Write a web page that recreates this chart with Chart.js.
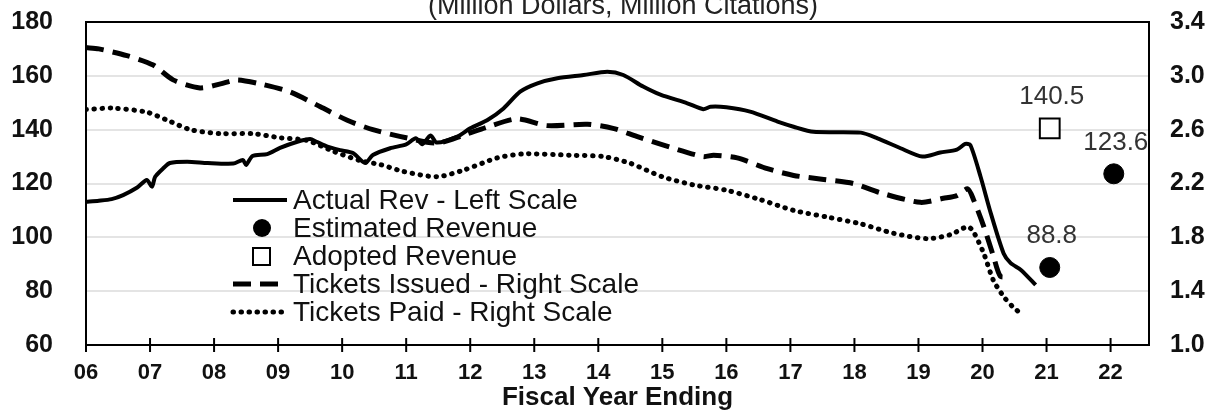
<!DOCTYPE html>
<html>
<head>
<meta charset="utf-8">
<script src="https://cdn.jsdelivr.net/npm/chart.js@4/dist/chart.umd.min.js"></script>
<style>
  html, body { margin: 0; padding: 0; background: #fff; }
  canvas { display: block; }
</style>
</head>
<body>
<canvas id="myChart" width="1220" height="418"></canvas>
<script>
// DATA //

var titleText = '(Million Dollars, Million Citations)';
var xTitle = 'Fiscal Year Ending';
var xTicks = [6, 7, 8, 9, 10, 11, 12, 13, 14, 15, 16, 17, 18, 19, 20, 21, 22];
var xTickLabels = ['06', '07', '08', '09', '10', '11', '12', '13', '14', '15', '16', '17', '18', '19', '20', '21', '22'];
var leftTicks = [60, 80, 100, 120, 140, 160, 180];
var rightTicks = [1.0, 1.4, 1.8, 2.2, 2.6, 3.0, 3.4];

// actual revenue, million dollars (left scale)
var revYears = [6.0, 6.2, 6.4, 6.58, 6.8, 6.95, 7.03, 7.08, 7.2, 7.31, 7.58, 7.9, 8.3, 8.45, 8.5, 8.6, 8.83,
  9.03, 9.3, 9.5, 9.6, 9.77, 9.97, 10.17, 10.36, 10.48, 10.75, 11.0, 11.15, 11.25, 11.38, 11.48, 11.8,
  12.0, 12.27, 12.52, 12.78, 13.05, 13.36, 13.77, 14.14, 14.39, 14.7, 14.97, 15.39, 15.64, 15.75, 16.0,
  16.37, 16.8, 17.05, 17.36, 18.1, 18.36, 18.72, 19.06, 19.34, 19.6, 19.73, 19.81, 19.97, 20.13, 20.33,
  20.44, 20.6, 20.83];
var revValues = [113.2, 113.6, 114.2, 115.7, 118.5, 121.3, 118.8, 122.5, 125.5, 127.6, 128.1, 127.6, 127.4, 128.7, 126.9, 130.2, 130.9,
  133.2, 135.5, 136.5, 135.5, 133.7, 132.4, 131.3, 127.6, 130.6, 133.1, 134.5, 136.8, 134.6, 137.8, 135.2, 137.4,
  140.5, 143.6, 147.9, 154.1, 157.2, 159.1, 160.3, 161.5, 160.3, 156.0, 153.0, 149.8, 147.6, 148.5, 148.3,
  146.7, 143.0, 141.1, 139.2, 138.9, 136.8, 133.1, 130.0, 131.5, 132.6, 134.7, 134.3, 122.5, 108.9, 94.0,
  90.4, 87.9, 82.3];

// tickets issued, million citations (right scale)
var issuedYears = [6.0, 6.2, 6.64, 7.05, 7.36, 7.78, 8.1, 8.36, 8.72, 9.19, 9.66, 10.08, 10.48, 11.0, 11.48,
  11.9, 12.27, 12.73, 13.2, 13.83, 14.23, 14.6, 15.12, 15.64, 15.8, 16.17, 16.64, 17.05, 17.52, 17.98,
  18.41, 19.03, 19.39, 19.6, 19.77, 19.86, 20.02, 20.17, 20.28, 20.44];
var issuedValues = [3.21, 3.20, 3.15, 3.08, 2.97, 2.91, 2.94, 2.97, 2.94, 2.88, 2.77, 2.67, 2.60, 2.54, 2.50,
  2.56, 2.62, 2.68, 2.63, 2.64, 2.61, 2.55, 2.47, 2.40, 2.41, 2.39, 2.31, 2.26, 2.23, 2.20,
  2.13, 2.06, 2.09, 2.11, 2.16, 2.08, 1.88, 1.66, 1.51, 1.51];

// tickets paid, million citations (right scale)
var paidYears = [6.0, 6.42, 6.95, 7.27, 7.63, 8.1, 8.61, 9.03, 9.45, 9.86, 10.28, 10.6, 10.95, 11.48, 11.9,
  12.42, 12.83, 13.56, 14.08, 14.5, 15.0, 15.48, 16.0, 16.53, 17.05, 17.58, 18.1, 18.61, 19.14, 19.5,
  19.77, 19.86, 20.02, 20.17, 20.33, 20.48, 20.64];
var paidValues = [2.75, 2.76, 2.73, 2.67, 2.60, 2.57, 2.57, 2.54, 2.52, 2.44, 2.37, 2.34, 2.29, 2.25, 2.30,
  2.39, 2.42, 2.41, 2.40, 2.35, 2.25, 2.19, 2.15, 2.08, 2.00, 1.95, 1.90, 1.83, 1.79, 1.82,
  1.88, 1.84, 1.68, 1.48, 1.36, 1.28, 1.22];

// estimated / adopted revenue points
var estYears = [21.05, 22.05];
var estValues = [88.8, 123.6];
var adoptedYears = [21.05];
var adoptedValues = [140.5];

function pairs(xs, ys) {
  return xs.map(function (x, i) { return { x: x, y: ys[i] }; });
}

var FONT = '"Liberation Sans", Arial, sans-serif';

// no label overhang, the plot box is placed by hand
function noPad(s) {
  s.paddingTop = 0; s.paddingBottom = 0; s.paddingLeft = 0; s.paddingRight = 0;
}

// EXTRAS: frame, crossing x ticks, cut-off title, legend in plot, value labels //

var extras = {
  id: 'extras',
  afterDatasetsDraw: function (chart) {
    var ctx = chart.ctx;
    var a = chart.chartArea;
    var x = chart.scales.x;
    ctx.save();

    ctx.strokeStyle = '#000';
    ctx.lineWidth = 2;
    ctx.setLineDash([]);
    ctx.strokeRect(a.left, a.top, a.right - a.left, a.bottom - a.top);
    x.ticks.forEach(function (t) {
      var px = x.getPixelForValue(t.value);
      ctx.beginPath();
      ctx.moveTo(px, a.bottom - 7);
      ctx.lineTo(px, a.bottom + 7);
      ctx.stroke();
    });

    ctx.fillStyle = '#222';
    ctx.font = '27px ' + FONT;
    ctx.textAlign = 'center';
    ctx.textBaseline = 'alphabetic';
    ctx.fillText(titleText, 623, 14);

    // value labels
    ctx.font = '26px ' + FONT;
    ctx.fillStyle = '#333';
    chart.data.datasets.forEach(function (ds, i) {
      if (!ds.showValue) return;
      chart.getDatasetMeta(i).data.forEach(function (el, j) {
        ctx.fillText(String(ds.data[j].y), el.x + 2, el.y - 24);
      });
    });

    // legend
    ctx.font = '28px ' + FONT;
    ctx.textAlign = 'left';
    ctx.textBaseline = 'middle';
    var lx = a.left + 147;
    chart.data.datasets.forEach(function (ds, i) {
      var y = a.top + 178 + i * 28;
      ctx.strokeStyle = '#000';
      if (ds.showLine === false) {
        ctx.setLineDash([]);
        ctx.lineWidth = 2;
        ctx.beginPath();
        if (ds.pointStyle === 'rect') {
          ctx.fillStyle = '#fff';
          ctx.rect(lx + 20, y - 8, 17, 17);
          ctx.fill();
          ctx.stroke();
        } else {
          ctx.fillStyle = '#000';
          ctx.arc(lx + 29, y, 9, 0, Math.PI * 2);
          ctx.fill();
        }
      } else {
        ctx.setLineDash(ds.borderDash || []);
        ctx.lineCap = ds.borderCapStyle || 'butt';
        ctx.lineWidth = ds.borderWidth;
        ctx.beginPath();
        ctx.moveTo(lx, y);
        ctx.lineTo(lx + 54, y);
        ctx.stroke();
      }
      ctx.fillStyle = '#111';
      ctx.fillText(ds.label, lx + 60, y + 1);
    });
    ctx.restore();
  }
};

// GRAFICO //

var ctx = document.getElementById('myChart').getContext('2d');
var chart = new Chart(ctx, {
  type: 'line',
  data: {
    datasets: [{
      label: 'Actual Rev - Left Scale',
      data: pairs(revYears, revValues),
      yAxisID: 'y',
      borderColor: '#000',
      borderWidth: 4,
      pointRadius: 0,
      tension: 0.25,
      order: 3
    }, {
      label: 'Estimated Revenue',
      data: pairs(estYears, estValues),
      yAxisID: 'y',
      showLine: false,
      showValue: true,
      pointStyle: 'circle',
      pointRadius: 10,
      backgroundColor: '#000',
      borderColor: '#000',
      order: 1
    }, {
      label: 'Adopted Revenue',
      data: pairs(adoptedYears, adoptedValues),
      yAxisID: 'y',
      showLine: false,
      showValue: true,
      pointStyle: 'rect',
      pointRadius: 14,
      pointBorderWidth: 2,
      backgroundColor: '#fff',
      borderColor: '#000',
      order: 1
    }, {
      label: 'Tickets Issued - Right Scale',
      data: pairs(issuedYears, issuedValues),
      yAxisID: 'y1',
      borderColor: '#000',
      borderWidth: 5,
      borderDash: [18, 9],
      pointRadius: 0,
      tension: 0.25,
      order: 2
    }, {
      label: 'Tickets Paid - Right Scale',
      data: pairs(paidYears, paidValues),
      yAxisID: 'y1',
      borderColor: '#000',
      borderWidth: 5,
      borderDash: [0.5, 7.5],
      borderCapStyle: 'round',
      pointRadius: 0,
      tension: 0.25,
      order: 2
    }]
  },
  options: {
    responsive: false,
    animation: false,
    devicePixelRatio: 1,
    layout: { padding: { top: 22, left: 0, right: 0, bottom: 0 } },
    plugins: {
      legend: { display: false },
      tooltip: { enabled: false }
    },
    scales: {
      x: {
        type: 'linear',
        min: 6,
        max: 22.6,
        afterBuildTicks: function (s) { s.ticks = xTicks.map(function (v) { return { value: v }; }); },
        afterFit: function (s) { s.height = 73; noPad(s); },
        grid: { display: false, drawTicks: false },
        border: { color: '#000', width: 2 },
        ticks: {
          padding: 15,
          color: '#111',
          font: { family: FONT, size: 22, weight: 'bold' },
          maxRotation: 0,
          callback: function (v) { return xTickLabels[xTicks.indexOf(v)]; }
        },
        title: {
          display: true,
          text: xTitle,
          color: '#111',
          padding: { top: 0, bottom: 5 },
          font: { family: FONT, size: 26, weight: 'bold', lineHeight: 1.2 }
        }
      },
      y: {
        position: 'left',
        min: 60,
        max: 180,
        afterBuildTicks: function (s) { s.ticks = leftTicks.map(function (v) { return { value: v }; }); },
        afterFit: function (s) { s.width = 86; noPad(s); },
        grid: { color: '#e4e4e4', lineWidth: 2, drawTicks: false },
        border: { color: '#000', width: 2 },
        ticks: {
          padding: 33,
          color: '#111',
          font: { family: FONT, size: 25, weight: 'bold' }
        }
      },
      y1: {
        position: 'right',
        min: 1.0,
        max: 3.4,
        afterBuildTicks: function (s) { s.ticks = rightTicks.map(function (v) { return { value: v }; }); },
        afterFit: function (s) { s.width = 71; noPad(s); },
        grid: { display: false, drawTicks: false },
        border: { color: '#000', width: 2 },
        ticks: {
          padding: 21,
          color: '#111',
          font: { family: FONT, size: 25, weight: 'bold' },
          callback: function (v) { return v.toFixed(1); }
        }
      }
    }
  },
  plugins: [extras]
});
</script>
</body>
</html>
